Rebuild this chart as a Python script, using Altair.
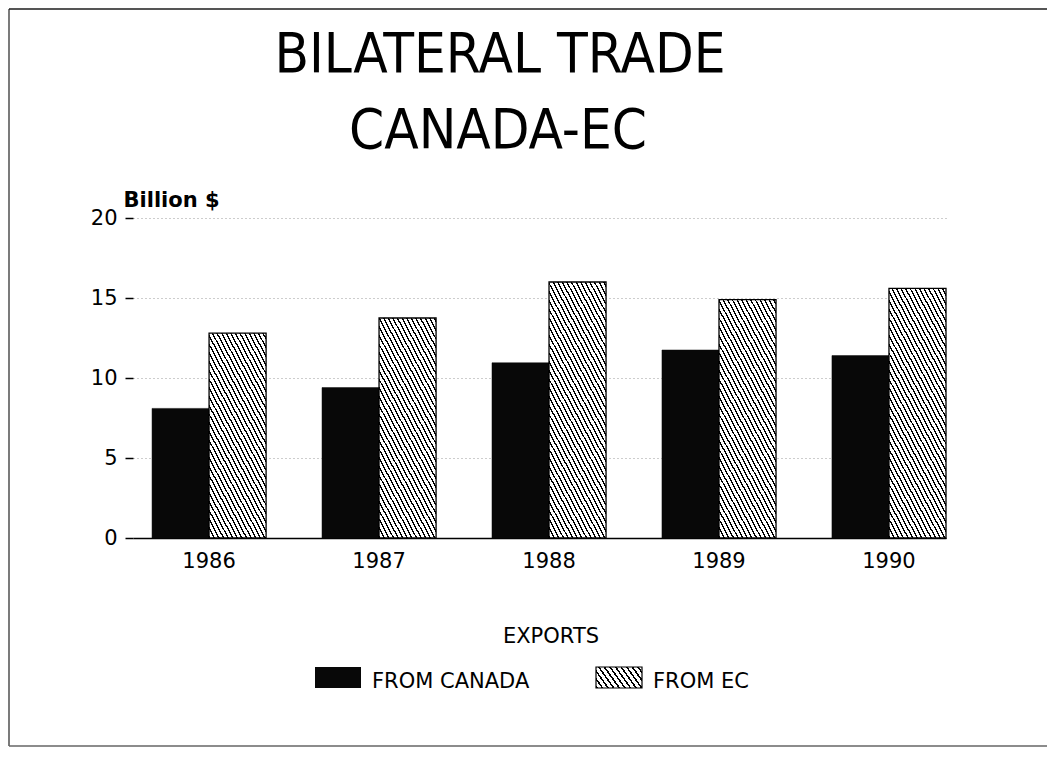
import altair as alt
import pandas as pd

# ---- data ----
years = ["1986", "1987", "1988", "1989", "1990"]
from_canada = [8.1, 9.4, 10.95, 11.75, 11.4]
from_ec = [12.8, 13.75, 16.0, 14.9, 15.6]
series = ["FROM CANADA", "FROM EC"]
y_ticks = [0, 5, 10, 15, 20]
title_lines = ["BILATERAL TRADE", "CANADA-EC"]
y_title = "Billion $"
legend_title = "EXPORTS"

rows = []
for i, yr in enumerate(years):
    rows.append({"year": yr, "series": series[0], "value": from_canada[i]})
    rows.append({"year": yr, "series": series[1], "value": from_ec[i]})
df = pd.DataFrame(rows)

# ---- layout ----
PLOT_W, PLOT_H = 813, 320
Y_MAX = 20
PAD_INNER, PAD_OUTER = 0.329, 0.056
step = PLOT_W / (len(years) - PAD_INNER + 2 * PAD_OUTER)
bar_w = step * (1 - PAD_INNER) / len(series)
px_per_unit = PLOT_H / Y_MAX
FONT = "DejaVu Sans"
TITLE_FONT = "Liberation Sans Narrow, DejaVu Sans Condensed, sans-serif"


def hatch(width, height, slope, period, line):
    """Diagonal '\\' hatching as a linear gradient in bounding-box units."""
    D = width + height / slope
    A = width / D
    B = -height / (slope * D)
    n2 = A * A + B * B
    dx, dy = A / n2, B / n2
    stops = []
    g = 0.0
    while g < D:
        a = g / D
        b = min((g + line) / D, 1.0)
        c = min((g + period) / D, 1.0)
        stops += [
            {"offset": a, "color": "black"},
            {"offset": b, "color": "black"},
            {"offset": b, "color": "white"},
            {"offset": c, "color": "white"},
        ]
        g += period
    return {"gradient": "linear", "x1": 0, "y1": 1, "x2": dx, "y2": 1 + dy, "stops": stops}


x_enc = alt.X(
    "year:N",
    sort=years,
    scale=alt.Scale(domain=years, paddingInner=PAD_INNER, paddingOuter=PAD_OUTER, align=1),
    axis=alt.Axis(
        title=None, labelAngle=0, labelFont=FONT, labelFontSize=21, labelColor="black",
        labelPadding=12, ticks=False, domainColor="black", domainWidth=1.5, grid=False,
    ),
)
xo_enc = alt.XOffset("series:N", scale=alt.Scale(domain=series, paddingInner=0, paddingOuter=0))
y_enc = alt.Y(
    "value:Q",
    scale=alt.Scale(domain=[0, Y_MAX], nice=False),
    axis=alt.Axis(
        values=y_ticks, title=y_title, titleAngle=0, titleAlign="left", titleX=-10, titleY=-12,
        titleBaseline="alphabetic", titleFont=FONT, titleFontSize=21, titleFontWeight="bold",
        titleColor="black", labelFont=FONT, labelFontSize=21, labelColor="black", labelPadding=8,
        tickSize=8, tickColor="black", tickWidth=1.5, domain=False, grid=True,
        gridDash=[1, 3], gridColor="#9a9a9a", gridWidth=1,
    ),
)

base = alt.Chart(df)

canada = base.transform_filter(alt.datum.series == series[0]).mark_bar(
    fill="#080808", stroke="#080808", strokeWidth=0.5
).encode(x=x_enc, xOffset=xo_enc, y=y_enc)

ec_layers = []
for i, yr in enumerate(years):
    grad = hatch(bar_w, from_ec[i] * px_per_unit, 1.9, 4.6, 1.5)
    ec_layers.append(
        base.transform_filter((alt.datum.series == series[1]) & (alt.datum.year == yr))
        .mark_bar(fill=grad, stroke="black", strokeWidth=1.3)
        .encode(x=x_enc, xOffset=xo_enc, y=y_enc)
    )

# ---- title (two lines) ----
title1 = alt.Chart(pd.DataFrame({"t": [title_lines[0]]})).mark_text(
    font=TITLE_FONT, fontSize=56, align="center", baseline="alphabetic", color="black"
).encode(x=alt.value(367), y=alt.value(-146), text="t:N")
title2 = alt.Chart(pd.DataFrame({"t": [title_lines[1]]})).mark_text(
    font=TITLE_FONT, fontSize=56, align="center", baseline="alphabetic", color="black"
).encode(x=alt.value(365), y=alt.value(-70), text="t:N")

# ---- manual legend ----
one = pd.DataFrame({"k": [0]})
leg_title = alt.Chart(pd.DataFrame({"t": [legend_title]})).mark_text(
    font=FONT, fontSize=21, align="center", baseline="alphabetic", color="black"
).encode(x=alt.value(418), y=alt.value(425), text="t:N")

sw1 = alt.Chart(one).mark_rect(fill="#080808").encode(
    x=alt.value(182), x2=alt.value(228), y=alt.value(449), y2=alt.value(470))
sw2 = alt.Chart(one).mark_rect(fill=hatch(46, 21, 1.4, 5.6, 1.9), stroke="black", strokeWidth=1.2).encode(
    x=alt.value(463), x2=alt.value(509), y=alt.value(449), y2=alt.value(470))
lab1 = alt.Chart(pd.DataFrame({"t": [series[0]]})).mark_text(
    font=FONT, fontSize=21, align="left", baseline="alphabetic", color="black"
).encode(x=alt.value(239), y=alt.value(470), text="t:N")
lab2 = alt.Chart(pd.DataFrame({"t": [series[1]]})).mark_text(
    font=FONT, fontSize=21, align="left", baseline="alphabetic", color="black"
).encode(x=alt.value(520), y=alt.value(470), text="t:N")

# ---- page frame ----
frame_top = alt.Chart(one).mark_rule(color="#555555", strokeWidth=2).encode(
    x=alt.value(-124), x2=alt.value(914), y=alt.value(-209))
frame_left = alt.Chart(one).mark_rule(color="#222222", strokeWidth=1.2).encode(
    x=alt.value(-124), y=alt.value(-209), y2=alt.value(528))
frame_bottom = alt.Chart(one).mark_rule(color="#666666", strokeWidth=1.5).encode(
    x=alt.value(-124), x2=alt.value(914), y=alt.value(528))

chart = alt.layer(
    canada, *ec_layers, title1, title2, leg_title, sw1, sw2, lab1, lab2,
    frame_top, frame_left, frame_bottom
).properties(
    width=PLOT_W,
    height=PLOT_H,
    autosize=alt.AutoSizeParams(type="none"),
    padding={"left": 125, "top": 210, "right": 102, "bottom": 210},
).configure_view(strokeWidth=0)

chart.save("out.html", embed_options={"renderer": "svg", "actions": False})
